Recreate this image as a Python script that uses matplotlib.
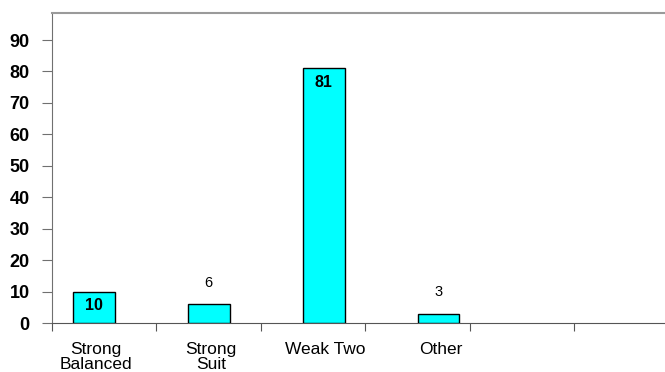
import numpy as np
import matplotlib
matplotlib.use("Agg")
import matplotlib.pyplot as plt

# chart data
categories = ["Strong\nBalanced", "Strong\nSuit", "Weak Two", "Other"]
counts = [10, 6, 81, 3]
y_ticks = [0, 10, 20, 30, 40, 50, 60, 70, 80, 90]

plt.rcParams["font.family"] = ["Liberation Sans", "DejaVu Sans"]

fig = plt.figure(figsize=(6.65, 3.72), dpi=100)
ax = fig.add_axes([0.0782, 0.1317, 0.93, 0.8333])

# bars sit a little apart from the category slots, as in the original
x = np.arange(len(counts)) * 1.1 + 0.4
ax.bar(x, counts, width=0.4, color="#00FFFF", edgecolor="black", linewidth=1, zorder=3)

for xi, v in zip(x, counts):
    if v >= 10:
        ax.text(xi, v - 2.0, str(v), ha="center", va="top", fontsize=11.5,
                fontweight="bold", color="black", zorder=4)
    else:
        ax.text(xi, v + 4.5, str(v), ha="center", va="bottom", fontsize=10.5,
                color="black", zorder=4)

ax.set_ylim(0, 98.6)
ax.set_xlim(0, 5.92)
ax.set_yticks(y_ticks)
ax.set_yticklabels([str(t) for t in y_ticks], fontsize=13, fontweight="bold")
ax.set_xticks(np.arange(0, 6))
ax.set_xticklabels([])

for xi, lab in zip(x, categories):
    ax.text(xi + 0.02, -6.0, lab, ha="center", va="top", fontsize=12.5,
            linespacing=1.05, clip_on=False)

ax.spines["right"].set_visible(False)
ax.spines["top"].set_color("#9a9a9a")
ax.spines["top"].set_linewidth(1.5)
ax.spines["left"].set_color("#707070")
ax.spines["bottom"].set_color("#555555")
ax.tick_params(axis="y", length=7, color="#707070", pad=9)
ax.tick_params(axis="x", length=6, color="#555555")

fig.savefig("out.png", dpi=100)
